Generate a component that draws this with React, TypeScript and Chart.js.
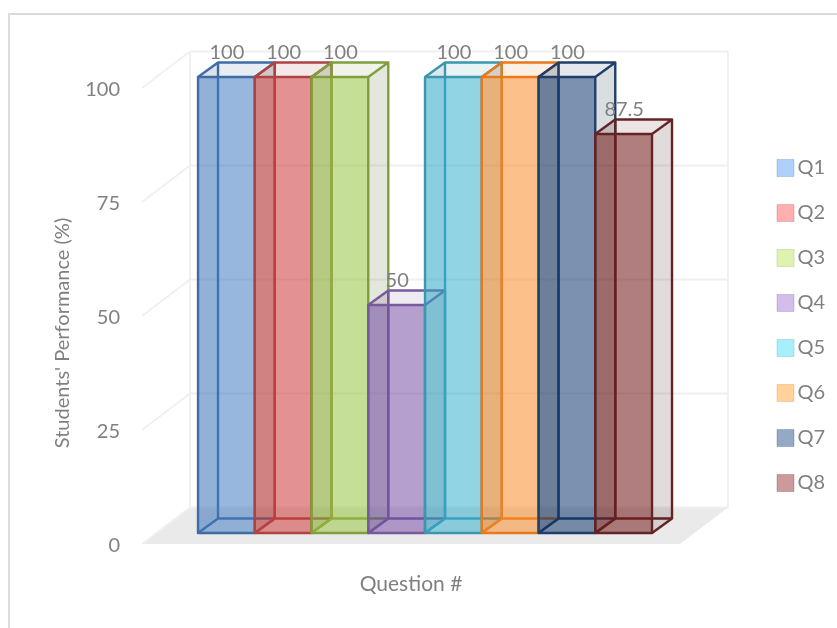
import { useEffect, useRef } from "react";
import { Chart, registerables } from "chart.js";

Chart.register(...registerables);

const questions = ["Q1", "Q2", "Q3", "Q4", "Q5", "Q6", "Q7", "Q8"];
const performance = [100, 100, 100, 50, 100, 100, 100, 87.5];
const yTickValues = [0, 25, 50, 75, 100];
const edgeColors = ["#3F6CA6", "#AD4343", "#7F9F3E", "#775A9C", "#3C97AE", "#E8791C", "#1F3F68", "#632523"];
const frontColors = [
  "rgba(62,120,193,0.52)", "rgba(205,60,58,0.54)", "rgba(150,195,60,0.52)", "rgba(115,75,165,0.52)",
  "rgba(50,175,205,0.52)", "rgba(252,135,30,0.50)", "rgba(10,50,105,0.52)", "rgba(115,25,25,0.55)",
];
const legendColors = ["#AFD0FA", "#FFB0AE", "#E0F2B0", "#D3BDEB", "#A8EFFC", "#FFD29B", "#94A9C5", "#CC9A9A"];

const TEXT = "#808080";
const FONT = "Lato";
const BAR_DX = 20;
const BAR_DY = -14.5;
const WALL_DX = 48;
const WALL_DY = -36.5;
const FLOOR_DROP = 11;
const EDGE_WIDTH = 2.4;

function poly(ctx: CanvasRenderingContext2D, pts: number[][]) {
  ctx.beginPath();
  pts.forEach((p, i) => (i ? ctx.lineTo(p[0], p[1]) : ctx.moveTo(p[0], p[1])));
  ctx.closePath();
}

function rgb(hex: string) {
  return [1, 3, 5].map((i) => parseInt(hex.slice(i, i + 2), 16));
}

const stagePlugin = {
  id: "stage",
  afterLayout(chart: any) {
    const lg = chart.legend;
    lg.left = 752;
    lg.right = 825;
    lg.top = 80.5;
    lg.bottom = 570.5;
  },
  beforeDatasetsDraw(chart: any) {
    const { ctx, chartArea } = chart;
    const yb = chart.scales.yBars;
    const L = chartArea.left;
    const R = chartArea.right;
    const py = (v: number) => yb.getPixelForValue(v) + FLOOR_DROP;
    const y0 = py(0);
    const y100 = py(100);
    ctx.save();
    ctx.strokeStyle = "#DCDCDC";
    ctx.lineWidth = 2;
    ctx.beginPath();
    ctx.moveTo(9, chart.height);
    ctx.lineTo(9, 14);
    ctx.lineTo(chart.width, 14);
    ctx.stroke();
    ctx.fillStyle = "#EAEAEA";
    poly(ctx, [[L, y0], [L + WALL_DX, y0 + WALL_DY], [R + WALL_DX, y0 + WALL_DY], [R, y0]]);
    ctx.fill();
    ctx.strokeStyle = "#F0F0F0";
    ctx.lineWidth = 2;
    yTickValues.forEach((v) => {
      const p = py(v);
      ctx.beginPath();
      ctx.moveTo(L, p);
      ctx.lineTo(L + WALL_DX, p + WALL_DY);
      ctx.lineTo(R + WALL_DX, p + WALL_DY);
      ctx.stroke();
    });
    ctx.beginPath();
    ctx.moveTo(L + WALL_DX, y0 + WALL_DY);
    ctx.lineTo(L + WALL_DX, y100 + WALL_DY);
    ctx.moveTo(R + WALL_DX, y0 + WALL_DY);
    ctx.lineTo(R + WALL_DX, y100 + WALL_DY);
    ctx.stroke();
    ctx.restore();
  },
  beforeDatasetDraw(chart: any, args: any) {
    const { ctx } = chart;
    const bar = args.meta.data[0];
    const x0 = bar.x - bar.width / 2;
    const x1 = bar.x + bar.width / 2;
    const t = bar.y;
    const b = bar.base;
    const edge = edgeColors[args.index];
    const [r, g, bl] = rgb(edge);
    const shade = `rgba(${r >> 1},${g >> 1},${bl >> 1},0.12)`;
    const leftShade = `rgba(${r >> 1},${g >> 1},${bl >> 1},0.08)`;
    const tint = `rgba(${r},${g},${bl},0.09)`;
    const d = (x: number, yy: number) => [x + BAR_DX, yy + BAR_DY] as [number, number];
    ctx.save();
    ctx.lineJoin = "round";
    ctx.fillStyle = `rgba(${r},${g},${bl},0.03)`;
    poly(ctx, [d(x0, t), d(x1, t), d(x1, b), d(x0, b)]);
    ctx.fill();
    ctx.fillStyle = leftShade;
    poly(ctx, [[x0, t], d(x0, t), d(x0, b), [x0, b]]);
    ctx.fill();
    ctx.strokeStyle = edge;
    ctx.lineWidth = EDGE_WIDTH;
    ctx.beginPath();
    ctx.moveTo(...d(x0, t));
    ctx.lineTo(...d(x0, b));
    ctx.lineTo(...d(x1, b));
    ctx.moveTo(x0, b);
    ctx.lineTo(...d(x0, b));
    ctx.stroke();
    ctx.fillStyle = tint;
    poly(ctx, [[x0, t], [x1, t], d(x1, t), d(x0, t)]);
    ctx.fill();
    ctx.fillStyle = shade;
    poly(ctx, [[x1, t], d(x1, t), d(x1, b), [x1, b]]);
    ctx.fill();
    ctx.restore();
  },
  afterDatasetDraw(chart: any, args: any) {
    const { ctx } = chart;
    const bar = args.meta.data[0];
    const x0 = bar.x - bar.width / 2;
    const x1 = bar.x + bar.width / 2;
    const t = bar.y;
    const b = bar.base;
    const d = (x: number, yy: number) => [x + BAR_DX, yy + BAR_DY] as [number, number];
    ctx.save();
    ctx.lineJoin = "round";
    ctx.strokeStyle = edgeColors[args.index];
    ctx.lineWidth = EDGE_WIDTH;
    ctx.strokeRect(x0, t, x1 - x0, b - t);
    ctx.beginPath();
    ctx.moveTo(x0, t);
    ctx.lineTo(...d(x0, t));
    ctx.lineTo(...d(x1, t));
    ctx.lineTo(x1, t);
    ctx.moveTo(...d(x1, t));
    ctx.lineTo(...d(x1, b));
    ctx.lineTo(x1, b);
    ctx.stroke();
    ctx.restore();
  },
  afterDatasetsDraw(chart: any) {
    const { ctx } = chart;
    ctx.save();
    ctx.fillStyle = TEXT;
    ctx.font = `20px ${FONT}`;
    ctx.textAlign = "center";
    ctx.textBaseline = "middle";
    chart.data.datasets.forEach((ds: any, i: number) => {
      const bar = chart.getDatasetMeta(i).data[0];
      ctx.fillText(String(ds.data[0].y), bar.x + 0.5, bar.y - 24);
    });
    ctx.restore();
  },
};

export default function App() {
  const ref = useRef<HTMLCanvasElement>(null);
  useEffect(() => {
    const chart = new Chart(ref.current as HTMLCanvasElement, {
      type: "bar",
      data: {
        datasets: questions.map((q, i) => ({
          label: q,
          data: [{ x: i + 0.5, y: performance[i] }],
          xAxisID: "xBars",
          yAxisID: "yBars",
          backgroundColor: frontColors[i],
          borderWidth: 0,
          grouped: false,
          barPercentage: 1,
          categoryPercentage: 1,
          clip: false,
          order: questions.length - i,
        })),
      },
      options: {
        responsive: false,
        animation: false,
        layout: { padding: { left: 0, top: 88, right: 157, bottom: 0 } },
        plugins: {
          title: { display: false },
          tooltip: { enabled: false },
          legend: {
            display: true,
            position: "chartArea",
            labels: {
              font: { family: FONT, size: 20 },
              color: TEXT,
              boxWidth: 17,
              boxHeight: 17,
              padding: 25,
              textAlign: "right",
              generateLabels: () =>
                questions.map((q, i) => ({
                  text: q,
                  fillStyle: legendColors[i],
                  strokeStyle: `rgba(${rgb(edgeColors[i]).join(",")},0.25)`,
                  lineWidth: 1,
                  fontColor: TEXT,
                  datasetIndex: i,
                })),
            },
          },
        },
        scales: {
          x: {
            type: "linear",
            position: "bottom",
            offset: false,
            min: 0,
            max: 1,
            grid: { display: false },
            border: { display: false },
            ticks: { display: false },
            title: {
              display: true,
              text: "Question #",
              color: TEXT,
              font: { family: FONT, size: 21 },
              padding: { top: 0, bottom: 31 },
            },
            afterFit: (s: any) => {
              s.height = 50;
            },
          },
          y: {
            type: "linear",
            position: "left",
            min: -7.02,
            max: 100.44,
            afterBuildTicks: (s: any) => {
              s.ticks = yTickValues.map((value) => ({ value }));
            },
            grid: { display: false },
            border: { display: false },
            ticks: {
              color: TEXT,
              font: { family: FONT, size: 20 },
              padding: 14,
            },
            title: {
              display: true,
              text: "Students' Performance (%)",
              color: TEXT,
              font: { family: FONT, size: 20 },
              padding: { top: 51, bottom: 0 },
            },
            afterFit: (s: any) => {
              s.width = 142;
            },
          },
          xBars: {
            type: "linear",
            display: false,
            position: "bottom",
            offset: false,
            min: -0.987,
            max: 8.493,
            afterBuildTicks: (s: any) => {
              s.ticks = [{ value: s.min }, { value: s.max }];
            },
          },
          yBars: {
            type: "linear",
            display: false,
            position: "left",
            min: -9.868,
            max: 97.588,
          },
        },
      },
      plugins: [stagePlugin],
    } as any);
    return () => chart.destroy();
  }, []);
  return (
    <div style={{ position: "absolute", left: 0, top: 0, width: 837, height: 628, background: "#fff" }}>
      <canvas ref={ref} width={837} height={628} style={{ display: "block" }} />
    </div>
  );
}
